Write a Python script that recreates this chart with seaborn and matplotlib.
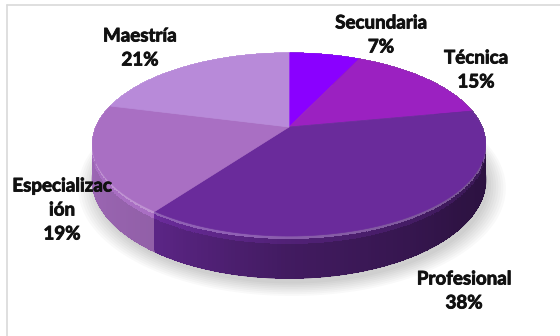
import numpy as np
import matplotlib
matplotlib.use("Agg")
import matplotlib.pyplot as plt
import matplotlib.patheffects as pe
from matplotlib.patches import Polygon
from matplotlib.collections import PolyCollection, LineCollection
from matplotlib.colors import to_rgb
import seaborn as sns

# Nivel de formación
categorias = ["Secundaria", "Técnica", "Profesional", "Especialización", "Maestría"]
porcentajes = [7, 15, 38, 19, 21]
etiquetas = ["Secundaria", "Técnica", "Profesional", "Especializac\nión", "Maestría"]
colores = ["#8a00ff", "#9b21c1", "#6a2b9b", "#a96fc3", "#b88ad9"]

sns.set_theme(style="white")
plt.rcParams["font.family"] = ["Lato", "DejaVu Sans"]

# Geometry of the tilted disc (screen units of the canvas)
CX, CY = 289.0, 127.0      # apex of the slices
A, B = 193.0, 88.2         # horizontal / depth radii
K = 0.191                  # perspective strength
H = 34.0                   # thickness of the disc


def proyectar(theta_deg, r=1.0, drop=0.0):
    t = np.radians(theta_deg)
    u = r * np.sin(t)
    v = -r * np.cos(t)
    den = 1.0 - K * v
    return CX + A * u / den, CY + (B * v + drop) / den


def sombra(c, f):
    c = np.array(to_rgb(c))
    return tuple(np.clip(c * f, 0, 1))


def aclarar(c, f):
    c = np.array(to_rgb(c))
    return tuple(np.clip(c + (1 - c) * f, 0, 1))


fig = plt.figure(figsize=(5.6, 3.36), dpi=100)
ax = fig.add_axes([0, 0, 1, 1])
ax.set_xlim(0, 560)
ax.set_ylim(336, 0)
ax.axis("off")

# chart frame
ax.plot([7, 560], [5, 5], color="#d9d9d9", lw=1.2, zorder=0)
ax.plot([7, 7], [5, 336], color="#d9d9d9", lw=1.2, zorder=0)

# slice boundaries in degrees, clockwise from the top
total = float(sum(porcentajes))
limites = np.concatenate([[0], np.cumsum(porcentajes) / total * 360.0])

# soft drop shadow under the disc
th_all = np.linspace(0, 360, 361)
for i in range(8):
    xs, ys = proyectar(th_all, r=1.0 + 0.012 * i, drop=H + 2)
    ax.add_patch(Polygon(np.column_stack([xs + 3, ys + 3]), closed=True,
                         facecolor="#000000", alpha=0.025, edgecolor="none", zorder=1))

# side wall, drawn far-to-near
luz_t = [0, 90, 130, 180, 215, 240, 270, 360]
luz_f = [0.5, 0.40, 0.44, 0.62, 0.86, 0.9, 0.95, 0.9]
segmentos = []
for i in range(len(porcentajes)):
    a0, a1 = limites[i], limites[i + 1]
    pasos = np.linspace(a0, a1, max(2, int((a1 - a0) / 1.0) + 1))
    for t0, t1 in zip(pasos[:-1], pasos[1:]):
        tm = 0.5 * (t0 + t1)
        segmentos.append((-np.cos(np.radians(tm)), t0, t1, tm, colores[i]))
segmentos.sort(key=lambda s: s[0])

quads, qcols = [], []
borde, bcols = [], []
for _, t0, t1, tm, col in segmentos:
    f = np.interp(tm, luz_t, luz_f)
    base = sombra(col, f)
    bisel = aclarar(sombra(col, min(1.0, f + 0.3)), 0.25)
    medio = sombra(col, min(1.0, f + 0.14))
    capas = [(0.0, 3.0, bisel), (3.0, 7.0, medio), (7.0, H, base)]
    for d0, d1, c in capas:
        x0a, y0a = proyectar(t0, drop=d0)
        x1a, y1a = proyectar(t1, drop=d0)
        x1b, y1b = proyectar(t1, drop=d1)
        x0b, y0b = proyectar(t0, drop=d1)
        quads.append([[x0a, y0a], [x1a, y1a], [x1b, y1b], [x0b, y0b]])
        qcols.append(c)
    xb0, yb0 = proyectar(t0, drop=H)
    xb1, yb1 = proyectar(t1, drop=H)
    borde.append([[xb0, yb0], [xb1, yb1]])
    bcols.append(base)

ax.add_collection(PolyCollection(quads, facecolors=qcols, edgecolors=qcols,
                                 linewidths=0.3, antialiaseds=False, zorder=2))
ax.add_collection(LineCollection(borde, colors=bcols, linewidths=1.0, zorder=2))

# top faces
for i in range(len(porcentajes)):
    th = np.linspace(limites[i], limites[i + 1], 120)
    xs, ys = proyectar(th)
    pts = np.column_stack([np.r_[CX, xs], np.r_[CY, ys]])
    ax.add_patch(Polygon(pts, closed=True, facecolor=colores[i],
                         edgecolor=colores[i], lw=0.5, zorder=3))

# data labels
pos_etiquetas = [(381, 35), (476, 70), (464, 291), (62, 210), (140, 48)]
for (x, y), txt, p in zip(pos_etiquetas, etiquetas, porcentajes):
    ax.text(x, y, f"{txt}\n{p}%", ha="center", va="center", fontsize=13.5,
            fontweight="bold", color="#111111", linespacing=1.5, zorder=5,
            path_effects=[pe.withStroke(linewidth=0.6, foreground="#111111")])

fig.savefig("out.png", dpi=100)
